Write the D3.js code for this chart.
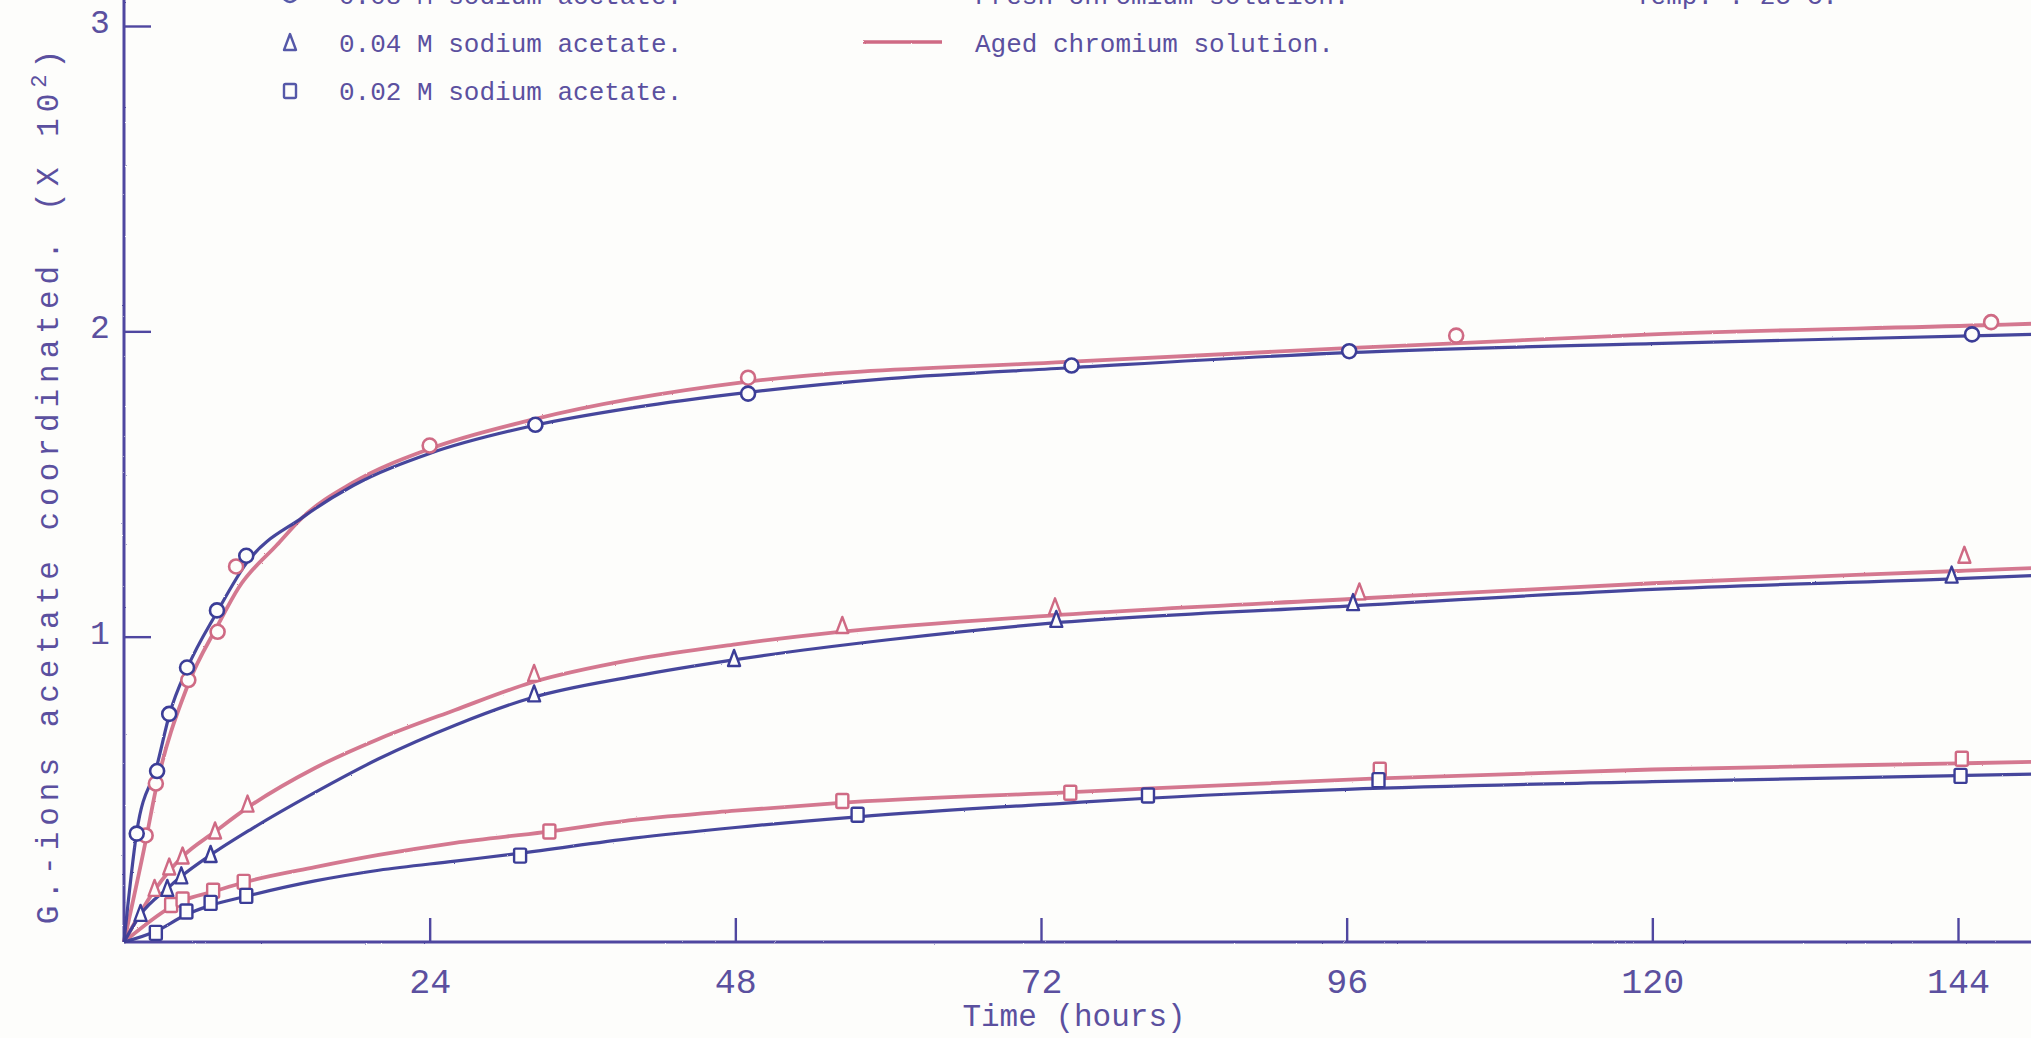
<!DOCTYPE html>
<html><head><meta charset="utf-8">
<script src="https://cdn.jsdelivr.net/npm/d3@7"></script>
<style>
html,body{margin:0;padding:0;background:#fdfdfb;overflow:hidden;}
svg{display:block;}
text{font-family:"Liberation Mono","DejaVu Sans Mono",monospace;fill:#5b509f;}
</style></head><body>
<svg id="chart" width="2031" height="1038"></svg>
<script>
// Axis ticks
const timeTicks = [24, 48, 72, 96, 120, 144];
const valueTicks = [1, 2, 3];

// Legend texts
const concLabels = ["0.08 M sodium acetate.", "0.04 M sodium acetate.", "0.02 M sodium acetate."];
const concShapes = ["circle", "triangle", "square"];
const solutionLabels = ["Fresh chromium solution.", "Aged chromium solution."];
const tempLabel = "Temp. : 25°C.";

// Smoothed curves, [hours, g-ions acetate x 10^2]
const curveHighFresh = [[0,0],[1,0.36],[2.6,0.58],[3.6,0.75],[5,0.9],[7.3,1.08],[9.6,1.24],[14,1.39],[18,1.495],[24,1.6],[32,1.69],[40,1.75],[49,1.8],[60,1.845],[74,1.88],[96,1.93],[120,1.96],[145,1.985],[150,1.99]];
const curveHighAged  = [[0,0],[1.7,0.33],[2.5,0.5],[5,0.84],[7.4,1.04],[9,1.16],[12,1.3],[14,1.39],[18,1.505],[24,1.615],[32,1.71],[49,1.835],[74,1.9],[96,1.945],[104,1.96],[120,1.99],[146,2.02],[150,2.025]];
const curveMidFresh  = [[0,0],[1.3,0.09],[3.4,0.175],[4.5,0.215],[6.8,0.285],[10,0.37],[15,0.49],[20,0.6],[26,0.71],[32,0.8],[40,0.87],[48,0.925],[60,0.99],[73,1.045],[96,1.1],[120,1.155],[144,1.19],[150,1.2]];
const curveMidAged   = [[0,0],[2.4,0.17],[3.6,0.235],[4.6,0.28],[7.1,0.36],[9.7,0.44],[15,0.57],[20,0.665],[26,0.76],[32,0.85],[40,0.925],[48,0.975],[56,1.015],[73,1.07],[97,1.125],[120,1.175],[144,1.215],[150,1.225]];
const curveLowFresh  = [[0,0],[2.5,0.035],[4.9,0.09],[6.8,0.12],[9.6,0.15],[15,0.2],[20,0.235],[26,0.265],[31,0.29],[40,0.34],[48,0.375],[57.6,0.41],[74,0.455],[80,0.47],[96,0.5],[120,0.525],[144,0.545],[150,0.55]];
const curveLowAged   = [[0,0],[3.7,0.115],[4.6,0.135],[7,0.165],[9.4,0.195],[15,0.245],[20,0.285],[26,0.325],[33,0.36],[40,0.4],[48,0.43],[56,0.455],[74,0.49],[98,0.535],[120,0.565],[144,0.585],[150,0.59]];

// Measured points, [hours, g-ions acetate x 10^2]
const pointsHighFresh = [[1.0,0.355],[2.6,0.56],[3.55,0.747],[4.95,0.899],[7.3,1.086],[9.6,1.265],[32.3,1.694],[49,1.796],[74.4,1.888],[96.2,1.935],[145.1,1.99]];
const pointsHighAged  = [[1.7,0.349],[2.5,0.519],[5.05,0.858],[7.35,1.016],[8.8,1.23],[24,1.626],[49,1.848],[104.6,1.986],[146.6,2.03]];
const pointsMidFresh  = [[1.3,0.092],[3.4,0.174],[4.5,0.215],[6.8,0.285],[32.2,0.811],[47.9,0.927],[73.2,1.055],[96.5,1.11],[143.5,1.2]];
const pointsMidAged   = [[2.4,0.174],[3.55,0.244],[4.6,0.28],[7.15,0.362],[9.7,0.45],[32.2,0.878],[56.4,1.035],[73.1,1.096],[97,1.145],[144.5,1.265]];
const pointsLowFresh  = [[2.5,0.03],[4.9,0.1],[6.8,0.128],[9.6,0.151],[31.1,0.283],[57.6,0.417],[80.4,0.48],[98.5,0.53],[144.2,0.544]];
const pointsLowAged   = [[3.7,0.121],[4.6,0.139],[7.0,0.168],[9.4,0.197],[33.4,0.362],[56.4,0.462],[74.3,0.489],[98.6,0.564],[144.3,0.6]];

const BLUE = "#3b3d97", PINK = "#cf6a84", AXIS = "#4f47a0";

const svg = d3.select("#chart");
const x = d3.scaleLinear().domain([0, 150]).range([124, 124 + 150 * (1958 - 124) / 144]);
const y = d3.scaleLinear().domain([0, 3]).range([942, 26]);

// slight roughness for the inked strokes
const defs = svg.append("defs");
const f = defs.append("filter").attr("id", "ink").attr("filterUnits", "userSpaceOnUse")
  .attr("x", 0).attr("y", 0).attr("width", 2031).attr("height", 1038);
f.append("feTurbulence").attr("type", "fractalNoise").attr("baseFrequency", 0.9).attr("numOctaves", 2).attr("seed", 3).attr("result", "n");
f.append("feDisplacementMap").attr("in", "SourceGraphic").attr("in2", "n").attr("scale", 1.6);

// Axes
const xAxis = d3.axisBottom(x).tickValues(timeTicks).tickSize(-24).tickSizeOuter(0).tickPadding(26);
const gx = svg.append("g").attr("transform", `translate(0,${y(0)})`).call(xAxis);
const yAxis = d3.axisLeft(y).tickValues(valueTicks).tickFormat(d3.format("d")).tickSize(-27).tickSizeOuter(0).tickPadding(16);
const gy = svg.append("g").attr("transform", `translate(${x(0)},0)`).call(yAxis);
gy.select(".domain").remove();
gx.select(".domain").remove();
svg.append("line").attr("x1", x(0)).attr("x2", 2031).attr("y1", y(0)).attr("y2", y(0))
  .attr("stroke", AXIS).attr("stroke-width", 3.2).attr("filter", "url(#ink)");
svg.append("line").attr("x1", x(0)).attr("x2", x(0)).attr("y1", 0).attr("y2", y(0))
  .attr("stroke", AXIS).attr("stroke-width", 3).attr("filter", "url(#ink)");
[gx, gy].forEach(g => {
  g.selectAll(".tick line").attr("stroke", AXIS).attr("stroke-width", 2.4);
  g.selectAll(".tick text").attr("fill", "#5b509f").attr("font-size", 35)
    .attr("font-family", "Liberation Mono, DejaVu Sans Mono, monospace");
});
gy.selectAll(".tick text").attr("text-anchor", "middle").attr("x", -24).attr("dy", "0.2em").attr("font-size", 33);

// Axis titles
svg.append("text").attr("x", 1074).attr("y", 1026).attr("text-anchor", "middle")
  .attr("font-size", 31).text("Time (hours)");
const yt = svg.append("text").attr("transform", "translate(58,484) rotate(-90)")
  .attr("text-anchor", "middle").attr("font-size", 31).attr("letter-spacing", 6);
yt.append("tspan").text("G.-ions acetate coordinated. (X 10");
yt.append("tspan").attr("dy", -12).attr("font-size", 22).text("2");
yt.append("tspan").attr("dy", 12).text(")");

// Curves
const line = d3.line().x(d => x(d[0])).y(d => y(d[1])).curve(d3.curveMonotoneX);
const curves = [
  [curveHighAged, PINK], [curveMidAged, PINK], [curveLowAged, PINK],
  [curveHighFresh, BLUE], [curveMidFresh, BLUE], [curveLowFresh, BLUE]
];
curves.forEach(([data, c]) => {
  svg.append("path").datum(data).attr("d", line).attr("fill", "none")
    .attr("stroke", c).attr("stroke-width", c === PINK ? 3.8 : 3.2)
    .attr("stroke-opacity", c === PINK ? 0.9 : 0.95).attr("filter", "url(#ink)");
});

// Markers
function marker(g, shape, cx, cy, color) {
  if (shape === "circle") {
    g.append("circle").attr("cx", cx).attr("cy", cy).attr("r", 7)
      .attr("fill", "#fdfdfb").attr("stroke", color).attr("stroke-width", 2.6);
  } else if (shape === "triangle") {
    g.append("path").attr("d", `M${cx},${cy - 9}L${cx + 6},${cy + 7}L${cx - 6},${cy + 7}Z`)
      .attr("fill", "#fdfdfb").attr("stroke", color).attr("stroke-width", 2.4).attr("stroke-linejoin", "round");
  } else {
    g.append("rect").attr("x", cx - 6).attr("y", cy - 7).attr("width", 12).attr("height", 14).attr("rx", 1.5)
      .attr("fill", "#fdfdfb").attr("stroke", color).attr("stroke-width", 2.4);
  }
}
const pointSets = [
  [pointsHighAged, "circle", PINK], [pointsMidAged, "triangle", PINK], [pointsLowAged, "square", PINK],
  [pointsHighFresh, "circle", BLUE], [pointsMidFresh, "triangle", BLUE], [pointsLowFresh, "square", BLUE]
];
const gm = svg.append("g");
pointSets.forEach(([pts, shape, c]) => pts.forEach(p => marker(gm, shape, x(p[0]), y(p[1]), c)));

// Legend
const rowY = [4, 52, 100];
const gl = svg.append("g");
concLabels.forEach((t, i) => {
  marker(gl, concShapes[i], 290, rowY[i] - 9, "#5558a8");
  gl.append("text").attr("x", 339).attr("y", rowY[i]).attr("font-size", 26).text(t);
});
solutionLabels.forEach((t, i) => {
  gl.append("line").attr("x1", 863).attr("x2", 942).attr("y1", rowY[i] - 10).attr("y2", rowY[i] - 10)
    .attr("stroke", i === 0 ? BLUE : PINK).attr("stroke-width", 3.5).attr("filter", "url(#ink)");
  gl.append("text").attr("x", 975).attr("y", rowY[i]).attr("font-size", 26).text(t);
});
gl.append("text").attr("x", 1635).attr("y", rowY[0]).attr("font-size", 26).text(tempLabel);
</script>
</body></html>
